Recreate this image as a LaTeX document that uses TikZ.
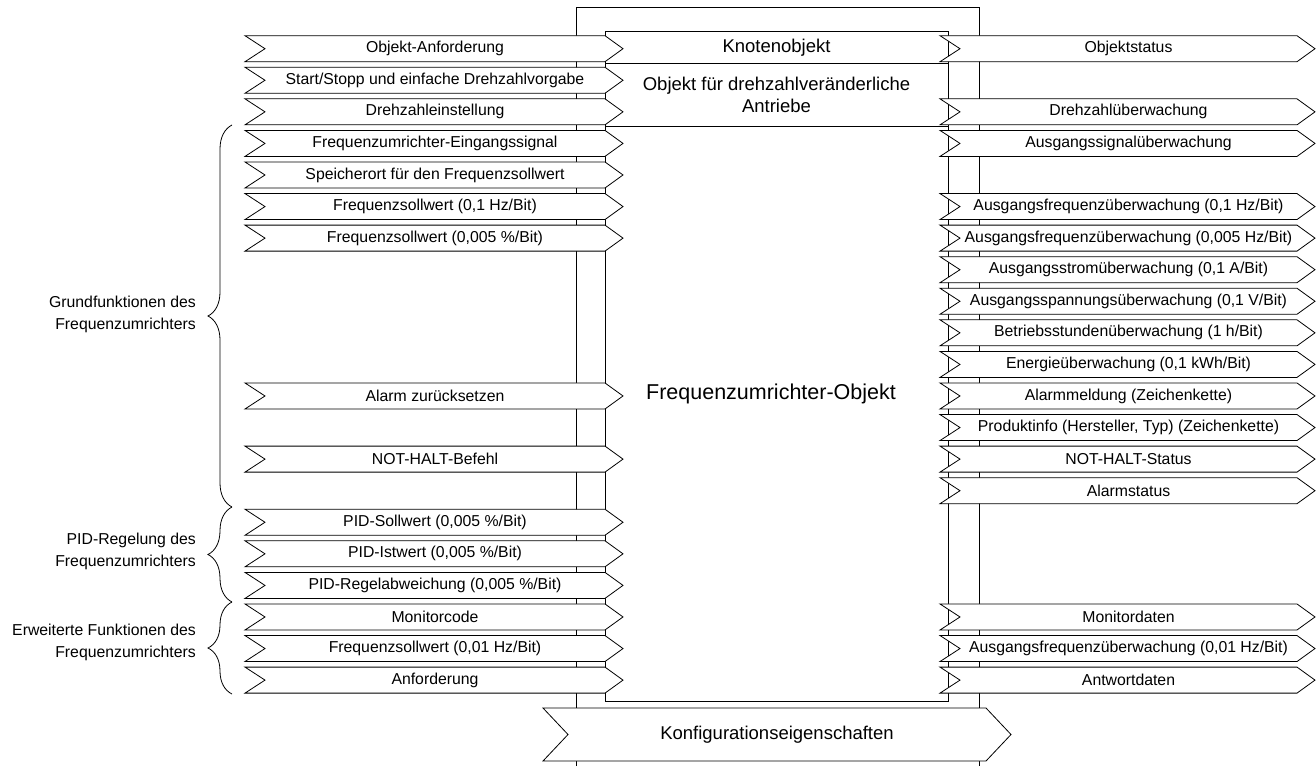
\documentclass[tikz,border=0pt]{standalone}
\usepackage{fontspec}
\setmainfont{Liberation Sans}
\usetikzlibrary{positioning, decorations.pathreplacing}
\tikzset{
  band/.style={draw, fill=white, line width=0.8pt}, % outline of boxes and arrows
  lbl/.style={font=\fontsize{15.8}{19}\selectfont, inner sep=0pt},
  big/.style={font=\fontsize{18.5}{22}\selectfont, align=center, inner sep=0pt},
  grp/.style={font=\fontsize{15.8}{22}\selectfont, align=right, anchor=east,
    inner sep=0pt},
  curly/.style={decorate, decoration={brace, amplitude=24pt}, line width=0.8pt},
}
% signal arrow: name, left x, right x, centre y, text
\newcommand{\sigbox}[5]{%
  \draw[band] (#2,#4-13) -- (#3-18,#4-13) -- (#3,#4) -- (#3-18,#4+13)
    -- (#2,#4+13) -- (#2+20,#4) -- cycle;
  \node[lbl] (#1) at ({(#2+#3+2)/2},#4) {#5};
}
\begin{document}
\begin{tikzpicture}[x=1pt, y=-1pt]
  \useasboundingbox (0,0) rectangle (1316,766);

  % outer frame
  \draw[line width=0.8pt] (576,766) -- (576,7) -- (979,7) -- (979,766);

  % object box
  \draw[band] (605,31.7) rectangle (948,701);
  \draw[line width=0.8pt] (605,63) -- (948,63) (605,126) -- (948,126);
  \node[big] (knoten) at (776.5,47.5) {Knotenobjekt};
  \node[big] (antrieb) at (776.5,94.5) {Objekt für drehzahlveränderliche\\Antriebe};
  \node[big, font=\fontsize{21.5}{25}\selectfont] (fuobj) at (771,394)
    {Frequenzumrichter-Objekt};

  % inputs
  \foreach \r/\t in {0/{Objekt-Anforderung},
      1/{Start/Stopp und einfache Drehzahlvorgabe},
      2/{Drehzahleinstellung},
      3/{Frequenzumrichter-Eingangssignal},
      4/{Speicherort für den Frequenzsollwert},
      5/{Frequenzsollwert (0,1 Hz/Bit)},
      6/{Frequenzsollwert (0,005 \%/Bit)},
      11/{Alarm zurücksetzen},
      13/{NOT-HALT-Befehl},
      15/{PID-Sollwert (0,005 \%/Bit)},
      16/{PID-Istwert (0,005 \%/Bit)},
      17/{PID-Regelabweichung (0,005 \%/Bit)},
      18/{Monitorcode},
      19/{Frequenzsollwert (0,01 Hz/Bit)},
      20/{Anforderung}}
    \sigbox{in\r}{245}{623}{48.7+31.57*\r}{\t};

  % outputs
  \foreach \r/\t in {0/{Objektstatus},
      2/{Drehzahlüberwachung},
      3/{Ausgangssignalüberwachung},
      5/{Ausgangsfrequenzüberwachung (0,1 Hz/Bit)},
      6/{Ausgangsfrequenzüberwachung (0,005 Hz/Bit)},
      7/{Ausgangsstromüberwachung (0,1 A/Bit)},
      8/{Ausgangsspannungsüberwachung (0,1 V/Bit)},
      9/{Betriebsstundenüberwachung (1 h/Bit)},
      10/{Energieüberwachung (0,1 kWh/Bit)},
      11/{Alarmmeldung (Zeichenkette)},
      12/{Produktinfo (Hersteller, Typ) (Zeichenkette)},
      13/{NOT-HALT-Status},
      14/{Alarmstatus},
      18/{Monitordaten},
      19/{Ausgangsfrequenzüberwachung (0,01 Hz/Bit)},
      20/{Antwortdaten}}
    \sigbox{out\r}{940}{1315}{48.7+31.57*\r}{\t};

  % configuration
  \draw[band] (543,708) -- (986,708) -- (1011,734.5) -- (986,761) -- (543,761)
    -- (568,734.5) -- cycle;
  \node[big] (konfig) at (777,734.5) {Konfigurationseigenschaften};

  % groups
  \draw[curly] (232,507) -- (232,125);
  \draw[curly] (232,602) -- (232,507);
  \draw[curly] (232,694) -- (232,602);
  \node[grp] (grund) at (196,314) {Grundfunktionen des\\Frequenzumrichters};
  \node[grp] (pid) at (196,551) {PID-Regelung des\\Frequenzumrichters};
  \node[grp] (erw) at (196,642) {Erweiterte Funktionen des\\Frequenzumrichters};
\end{tikzpicture}
\end{document}
